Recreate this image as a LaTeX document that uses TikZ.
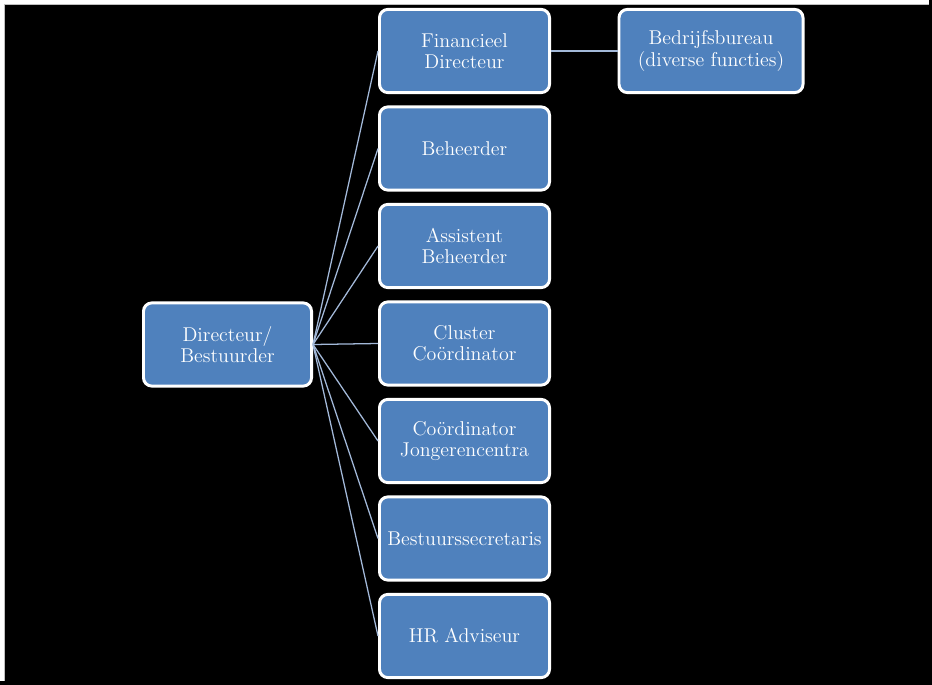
\documentclass[tikz,border=0pt]{standalone}
\usepackage{fontspec}
\definecolor{unitblue}{HTML}{4F81BD}
\definecolor{linkblue}{HTML}{A3B9D9}

\begin{document}
\begin{tikzpicture}[x=0.025cm, y=-0.025cm,
  font=\fontsize{14.2}{15}\selectfont,
  unit/.style={draw=white, line width=2.1pt, fill=unitblue, rounded corners=6pt,
    text=white, align=center, minimum width=4.25cm, minimum height=2.08cm, inner sep=1pt},
  link/.style={draw=linkblue, line width=0.9pt}]
  % page: thin light strip at top and left, black slide
  \useasboundingbox (0,0) rectangle (932,684);
  \fill[black] (-10,-10) rectangle (945,695);
  \fill[gray!50] (-10,-10) rectangle (929,5);
  \fill[gray!50] (-10,-10) rectangle (5,681);
  \fill[white] (-10,-10) rectangle (929,3.8);
  \fill[white] (-10,-10) rectangle (3.8,681);
  \fill[black] (5,5) rectangle (945,695);

  % head of the organisation
  \node[unit, minimum width=4.2cm] (dir) at (227.5,344.5) {Directeur/\\Bestuurder};

  % column of direct reports
  \node[unit] (fin)  at (464.5,51)    {Financieel\\Directeur};
  \node[unit] (beh)  at (464.5,148.5) {Beheerder};
  \node[unit] (ass)  at (464.5,246)   {Assistent\\Beheerder};
  \node[unit] (clu)  at (464.5,343.5) {Cluster\\Coördinator};
  \node[unit] (jong) at (464.5,441)   {Coördinator\\Jongerencentra};
  \node[unit] (sec)  at (464.5,538.5) {Bestuurssecretaris};
  \node[unit] (hr)   at (464.5,636)   {HR Adviseur};

  % office under the financial director
  \node[unit, minimum width=4.6cm] (bur) at (711,51) {Bedrijfsbureau\\(diverse functies)};

  % connectors
  \draw[link] (dir.east) -- (fin.west);
  \draw[link] (dir.east) -- (beh.west);
  \draw[link] (dir.east) -- (ass.west);
  \draw[link] (dir.east) -- (clu.west);
  \draw[link] (dir.east) -- (jong.west);
  \draw[link] (dir.east) -- (sec.west);
  \draw[link] (dir.east) -- (hr.west);
  \draw[link] (fin.east) -- (bur.west);
\end{tikzpicture}
\end{document}
